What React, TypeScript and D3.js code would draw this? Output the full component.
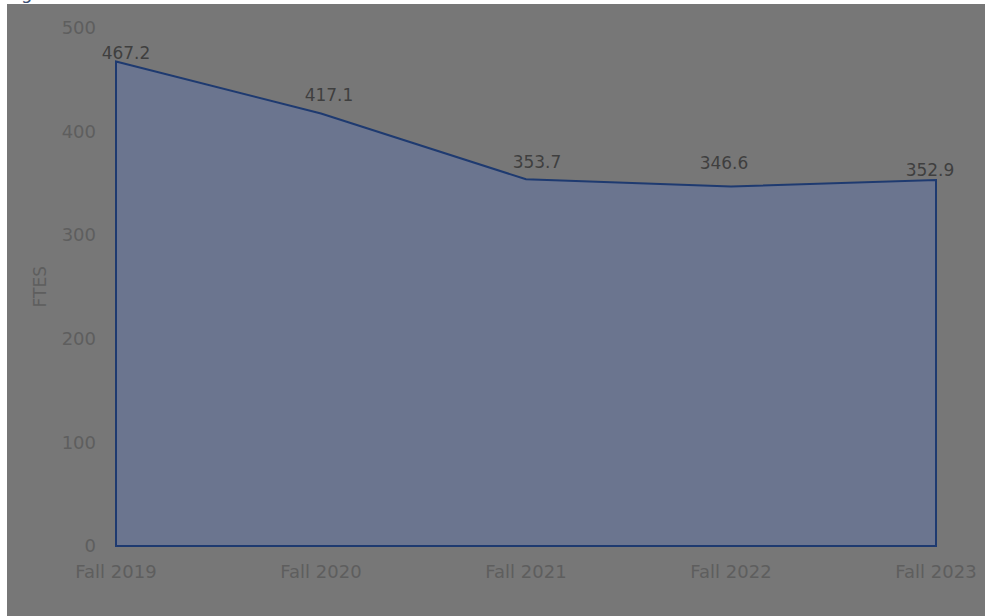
import { useRef, useEffect } from 'react';
import * as d3 from 'd3';

const terms = ['Fall 2019', 'Fall 2020', 'Fall 2021', 'Fall 2022', 'Fall 2023'];
const ftes = [467.2, 417.1, 353.7, 346.6, 352.9];
const yTicks = [0, 100, 200, 300, 400, 500];

// small label nudges (dx, dy) to mimic the source's label placement
const labelNudge: [number, number][] = [
  [10, -8], [8, -18], [11, -17], [-7, -24], [-6, -10],
];

export default function App() {
  const svgRef = useRef<SVGSVGElement>(null);

  useEffect(() => {
    const svg = d3.select(svgRef.current);
    svg.selectAll('*').remove();

    const W = 985, H = 616;
    const font = '"DejaVu Sans", "Noto Sans", sans-serif';

    // page background + grey panel
    svg.append('rect').attr('width', W).attr('height', H).attr('fill', '#ffffff');
    svg.append('rect').attr('x', 7).attr('y', 4).attr('width', W - 7).attr('height', H - 4)
      .attr('fill', '#777777');

    // descender of the cut-off heading above
    svg.append('text').attr('x', 21).attr('y', -1)
      .attr('font-family', font).attr('font-size', 18).attr('fill', '#3f5273')
      .text('g');

    const x = d3.scalePoint<string>().domain(terms).range([116, 936]);
    const y = d3.scaleLinear().domain([0, 500]).range([546, 27.5]);

    const pts = terms.map((t, i) => ({ t, v: ftes[i] }));

    const area = d3.area<{ t: string; v: number }>()
      .x(d => x(d.t)!)
      .y0(y(0))
      .y1(d => y(d.v));

    svg.append('path')
      .datum(pts)
      .attr('d', area)
      .attr('fill', '#6b758f')
      .attr('stroke', '#1e3a70')
      .attr('stroke-width', 2)
      .attr('stroke-linejoin', 'miter');

    // y axis labels
    svg.append('g').selectAll('text')
      .data(yTicks)
      .join('text')
      .attr('x', 96)
      .attr('y', d => y(d))
      .attr('dy', '0.35em')
      .attr('text-anchor', 'end')
      .attr('font-family', font)
      .attr('font-size', 18)
      .attr('fill', '#5e5e5e')
      .text(d => d);

    // x axis labels
    svg.append('g').selectAll('text')
      .data(terms)
      .join('text')
      .attr('x', d => x(d)!)
      .attr('y', 572)
      .attr('dy', '0.35em')
      .attr('text-anchor', 'middle')
      .attr('font-family', font)
      .attr('font-size', 18)
      .attr('fill', '#5e5e5e')
      .text(d => d);

    // axis title
    svg.append('text')
      .attr('transform', `translate(40,${y(250)}) rotate(-90)`)
      .attr('dy', '0.35em')
      .attr('text-anchor', 'middle')
      .attr('font-family', font)
      .attr('font-size', 17)
      .attr('fill', '#5e5e5e')
      .text('FTES');

    // data labels
    svg.append('g').selectAll('text')
      .data(pts)
      .join('text')
      .attr('x', (d, i) => x(d.t)! + labelNudge[i][0])
      .attr('y', (d, i) => y(d.v) + labelNudge[i][1])
      .attr('dy', '0.35em')
      .attr('text-anchor', 'middle')
      .attr('font-family', font)
      .attr('font-size', 17)
      .attr('fill', '#3f3f3f')
      .text(d => d.v.toFixed(1));
  }, []);

  return (
    <div style={{ position: 'absolute', left: 0, top: 0, width: 985, height: 616 }}>
      <svg ref={svgRef} width={985} height={616} style={{ display: 'block' }} />
    </div>
  );
}
